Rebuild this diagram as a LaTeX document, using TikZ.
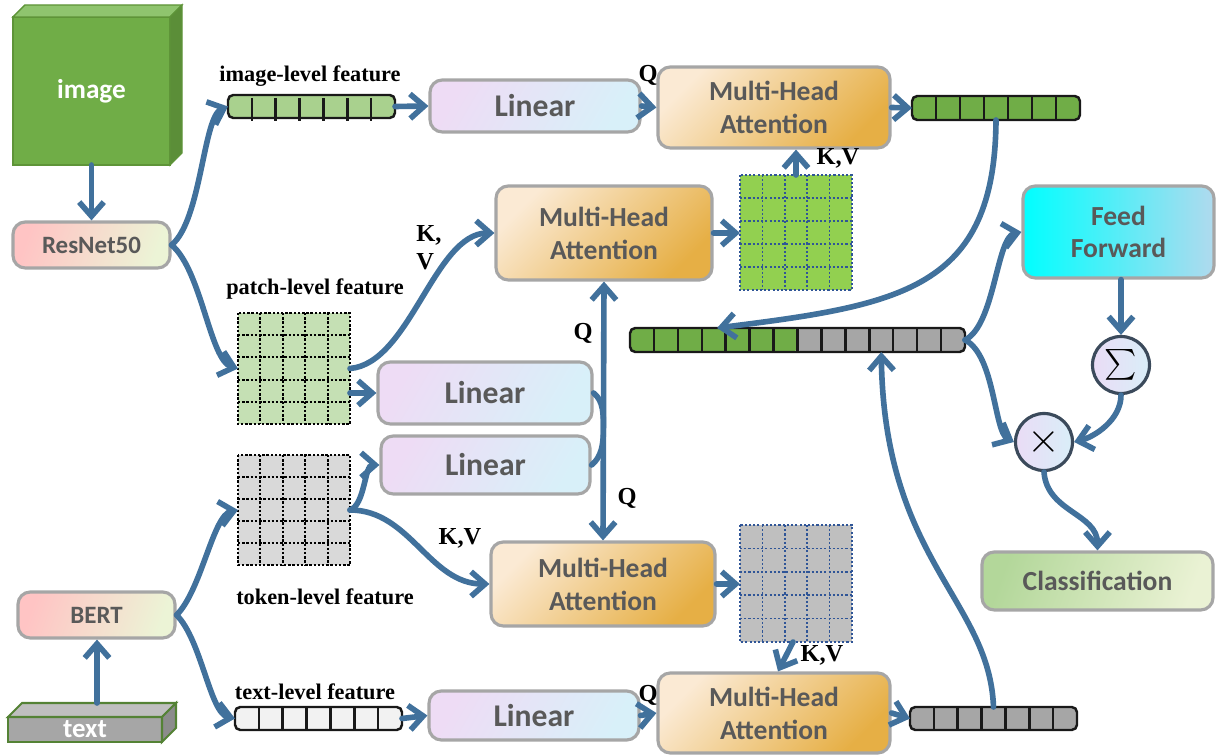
\documentclass[tikz,border=0pt]{standalone}
\usepackage{graphicx}
\usepackage{fontspec}
\setmainfont{Liberation Serif}
\newfontfamily\boxfont{Carlito}
\usetikzlibrary{arrows.meta,calc,shapes.geometric}
\definecolor{arrowblue}{HTML}{41719C}
\definecolor{boxgray}{HTML}{A6A6A6}
\definecolor{txtgray}{HTML}{595959}
\definecolor{linL}{HTML}{EEDCF5}
\definecolor{linR}{HTML}{D8F0F9}
\definecolor{mhaL}{HTML}{FBEAD4}
\definecolor{mhaM}{HTML}{F4D9A9}
\definecolor{mhaR}{HTML}{E6AF45}
\definecolor{resL}{HTML}{FFC4C4}
\definecolor{resR}{HTML}{ECF4D6}
\definecolor{ffL}{HTML}{00FFFF}
\definecolor{ffR}{HTML}{B0DAEE}
\definecolor{clsL}{HTML}{B3D79A}
\definecolor{clsR}{HTML}{EAF2D4}
\definecolor{cirL}{HTML}{EADCF6}
\definecolor{cirR}{HTML}{D9EEF8}
\definecolor{cirB}{HTML}{3B4A5B}
\definecolor{dkgreen}{HTML}{70AD47}
\definecolor{ltgreen}{HTML}{A9D18E}
\definecolor{patchgreen}{HTML}{C5E0B4}
\definecolor{kvgreen}{HTML}{92D050}
\definecolor{midgray}{HTML}{A6A6A6}
\definecolor{tokgray}{HTML}{D9D9D9}
\definecolor{kvgray}{HTML}{BFBFBF}
\definecolor{txtbarfill}{HTML}{F2F2F2}
\definecolor{gridblue}{HTML}{2F5597}
\definecolor{cubefrontc}{HTML}{70AD47}
\definecolor{cubetopc}{HTML}{8FC46E}
\definecolor{cubesidec}{HTML}{5B8E38}
\definecolor{cubeedge}{HTML}{5E9438}
\definecolor{slabfront}{HTML}{A6A6A6}
\definecolor{slabtopc}{HTML}{BFBFBF}
\definecolor{slabside}{HTML}{8C8C8C}
\definecolor{slabedge}{HTML}{548235}
\newcommand\cellsdiv[3]{%
  \foreach \i in {1,...,#2}{%
    \draw[cellline] ($(#1.north west)!\i/#3!(#1.north east)$) -- ($(#1.south west)!\i/#3!(#1.south east)$);}}
\newcommand\gridlines[2]{%
  \foreach \i in {1,...,4}{%
    \draw[#2] ($(#1.north west)!\i/5!(#1.north east)$) -- ($(#1.south west)!\i/5!(#1.south east)$);
    \draw[#2] ($(#1.north west)!\i/5!(#1.south west)$) -- ($(#1.north east)!\i/5!(#1.south east)$);}}
\begin{document}
\begin{tikzpicture}[x=0.02cm,y=-0.02cm,
  sz/.style 2 args={minimum width=#1*0.02cm, minimum height=#2*0.02cm},
  rbox/.style={rounded corners=7pt, draw=boxgray, line width=1.8pt, inner sep=0pt,
    font=\boxfont\bfseries\fontsize{15.7}{18.7}\selectfont, text=txtgray, align=center},
  linbox/.style={rbox, left color=linL, right color=linR, shading angle=60,
    font=\boxfont\bfseries\fontsize{18}{20}\selectfont},
  mhabox/.style={rbox, left color=mhaL, middle color=mhaM, right color=mhaR, shading angle=45},
  encbox/.style={rbox, left color=resL, right color=resR, shading angle=70,
    font=\boxfont\bfseries\fontsize{14.2}{16}\selectfont},
  bar/.style={draw=black!90, line width=1.4pt, rounded corners=3pt, inner sep=0pt, outer sep=0pt},
  cellline/.style={draw=black!90, line width=1.4pt},
  grid/.style={inner sep=0pt, outer sep=0pt},
  pdot/.style={draw=black, line width=1.1pt, dash pattern=on 1.4pt off 1pt},
  bdot/.style={draw=gridblue, line width=0.9pt, dash pattern=on 1.2pt off 1.2pt},
  circ/.style={circle, draw=cirB, line width=1.8pt, left color=cirL, right color=cirR,
    inner sep=0pt, minimum size=57*0.02cm},
  lbl/.style={font=\bfseries\fontsize{12.7}{14}\selectfont, inner sep=0pt},
  qkv/.style={font=\bfseries\fontsize{13.9}{16}\selectfont, inner sep=0pt},
  arr/.style={draw=arrowblue, line width=3.2pt, line cap=round,
    -{Straight Barb[length=8pt,width=14pt]}},
  darr/.style={draw=arrowblue, line width=3.2pt,
    {Straight Barb[length=8pt,width=14pt]}-{Straight Barb[length=8pt,width=14pt]}},
  plain/.style={draw=arrowblue, line width=3.2pt, line cap=round}
  ]
\useasboundingbox (0,0) rectangle (1218,756);

% ---------- image cube ----------
\node[sz={157}{148}, fill=cubefrontc, draw=cubeedge, line width=0.8pt, inner sep=0pt, outer sep=0pt,
  text=white, font=\boxfont\bfseries\fontsize{15.5}{18}\selectfont] (image) at (91.5,91) {image};
\filldraw[fill=cubetopc, draw=cubeedge, line width=0.8pt] (image.north west) -- ++(12,-12)
  -- ($(image.north east)+(12,-12)$) -- (image.north east) -- cycle;
\filldraw[fill=cubesidec, draw=cubeedge, line width=0.8pt] (image.north east) -- ++(12,-12)
  -- ($(image.south east)+(12,-12)$) -- (image.south east) -- cycle;

% ---------- text slab ----------
\node[sz={154}{25}, fill=slabfront, draw=slabedge, line width=1.2pt, inner sep=0pt, outer sep=0pt,
  text=white, font=\boxfont\bfseries\fontsize{15.3}{18}\selectfont] (text) at (85,729.5) {text};
\filldraw[fill=slabtopc, draw=slabedge, line width=1.2pt] (text.north west) -- ++(14,-14)
  -- ($(text.north east)+(14,-14)$) -- (text.north east) -- cycle;
\filldraw[fill=slabside, draw=slabedge, line width=1.2pt] (text.north east) -- ++(14,-14)
  -- ($(text.south east)+(14,-14)$) -- (text.south east) -- cycle;
\coordinate (slabtop) at ($(text.north)+(12,-14)$);

% ---------- encoders ----------
\node[encbox, sz={157}{46}] (resnet) at (91.5,245) {ResNet50};
\node[encbox, sz={157}{46}] (bert) at (96.5,615) {BERT};

% ---------- feature bars ----------
\node[bar, fill=ltgreen, sz={167}{23}] (imgbar) at (311.5,106.5) {};
\foreach \i in {1,...,6}{\draw[cellline] ($(imgbar.north west)!\i/7!(imgbar.north east)+(0,3)$) -- ($(imgbar.south west)!\i/7!(imgbar.south east)+(0,3)$);}
\node[bar, fill=txtbarfill, sz={167}{23}] (txtbar) at (318.5,718.5) {};
\cellsdiv{txtbar}{6}{7}
\node[bar, fill=dkgreen, sz={168}{24}] (outg) at (996,108) {};
\cellsdiv{outg}{6}{7}
\node[bar, fill=midgray, sz={167}{23}] (outgray) at (993.5,718.5) {};
\cellsdiv{outgray}{6}{7}
\node[bar, sz={335}{24}, path picture={
   \fill[dkgreen] (path picture bounding box.north west) rectangle (path picture bounding box.south);
   \fill[midgray] (path picture bounding box.north) rectangle (path picture bounding box.south east);}]
  (concat) at (797.5,340) {};
\cellsdiv{concat}{13}{14}

% ---------- grids ----------
\node[grid, fill=patchgreen, sz={112}{111}] (patch) at (294,368.5) {};
\gridlines{patch}{pdot}
\draw[pdot] (patch.north west) rectangle (patch.south east);
\node[grid, fill=tokgray, sz={112}{110}] (token) at (294,510) {};
\gridlines{token}{pdot}
\draw[pdot] (token.north west) rectangle (token.south east);
\node[grid, fill=kvgreen, sz={112}{115}] (kvg) at (796,232.5) {};
\gridlines{kvg}{bdot}
\draw[bdot] (kvg.north west) rectangle (kvg.south east);
\node[grid, fill=kvgray, sz={112}{117}] (kvk) at (796,583.5) {};
\gridlines{kvk}{bdot}
\draw[bdot] (kvk.north west) rectangle (kvk.south east);

% ---------- linear / attention boxes ----------
\node[linbox, sz={210}{52}] (lin1) at (535,106) {Linear};
\node[linbox, sz={214}{62}] (lin2) at (485,393) {Linear};
\node[linbox, sz={209}{58}] (lin3) at (485.5,465) {Linear};
\node[linbox, sz={210}{49}] (lin4) at (534,715.5) {Linear};
\node[mhabox, sz={232}{81}] (mha1) at (774,107.5) {Multi-Head\\Attention};
\node[mhabox, sz={216}{94}] (mha2) at (604,233) {Multi-Head\\Attention};
\node[mhabox, sz={224}{84}] (mha3) at (603,584) {Multi-Head\\Attention};
\node[mhabox, sz={232}{80}] (mha4) at (774,713) {Multi-Head\\Attention};

% ---------- right side ----------
\node[rbox, sz={191}{92}, left color=ffL, right color=ffR] (ff) at (1118.5,232) {Feed\\Forward};
\node[circ] (sigma) at (1121,365) {\scalebox{1.75}{$\textstyle\sum$}};
\node[circ] (times) at (1044,442) {\scalebox{2.4}{$\times$}};
\node[rbox, sz={231}{58}, left color=clsL, right color=clsR, shading angle=70] (cls) at (1097.5,581) {Classification};

% ---------- labels ----------
\node[lbl] (limg) at (310,76) {image-level feature};
\node[lbl] (lpatch) at (315,289) {patch-level feature};
\node[lbl] (ltoken) at (325,597) {token-level feature};
\node[lbl] (ltext) at (315,692) {text-level feature};
\node[qkv] (q1) at (648,75) {Q};
\node[qkv] (q2) at (583,333) {Q};
\node[qkv] (q3) at (627,498) {Q};
\node[qkv] (q4) at (648,695) {Q};
\node[qkv] (kv1) at (838,158) {K,V};
\node[qkv, align=left, anchor=west] (kv2) at (416,248) {K,\\V};
\node[qkv] (kv3) at (460,538) {K,V};
\node[qkv] (kv4) at (822,655) {K,V};

% ---------- connectors ----------
\draw[arr] (image.south) -- (resnet.north);
\draw[arr] (slabtop) -- (slabtop |- bert.south);
\draw[arr] (resnet.east) .. controls +(30,-25) and +(-25,10) .. (imgbar.west);
\draw[arr] (resnet.east) .. controls +(30,25) and +(-28,-8) .. (patch.west);
\draw[arr] (bert.east) .. controls +(25,-25) and +(-25,5) .. (token.west);
\draw[arr] (bert.east) .. controls +(25,25) and +(-25,-5) .. (txtbar.west);
\draw[arr] (imgbar.east) -- (lin1.west);
\draw[arr] (lin1.east) -- (mha1.west);
\draw[arr] (mha1.east) -- (outg.west);
\draw[arr] (txtbar.east) -- (lin4.west);
\draw[arr] (lin4.east) -- (mha4.west);
\draw[arr] (mha4.east) -- (outgray.west);
\draw[arr] (patch.east) .. controls +(60,-5) and +(-60,0) .. (mha2.west);
\draw[arr] (patch.east |- lin2.west) -- (lin2.west);
\draw[arr] (token.east) .. controls +(15,-5) and +(-15,0) .. (lin3.west);
\draw[arr] (token.east) .. controls +(60,0) and +(-60,0) .. (mha3.west);
\draw[arr] (mha2.east) -- (mha2.east -| kvg.west);
\draw[arr] (mha3.east) -- (mha3.east -| kvk.west);
\draw[arr] (kvg.north) -- (kvg.north |- mha1.south);
\draw[arr] ($(kvk.south)+(-3,0)$) -- ($(mha4.north)+(4,0)$);
\draw[darr] (mha2.south) -- (mha3.north);
\coordinate (vmid) at ($(mha2.south)!0.57!(mha3.north)$);
\draw[plain] (lin2.east) .. controls +(10,8) and +(0,-15) .. (vmid) .. controls +(0,15) and +(10,-8) .. (lin3.east);
\coordinate (cin1) at ($(concat.north west)!0.26!(concat.north east)$);
\coordinate (cin2) at ($(concat.south west)!0.75!(concat.south east)$);
\draw[arr] (outg.south) .. controls +(-1,170) and +(183,-23) .. (cin1);
\draw[arr] (outgray.north) .. controls +(-4,-107) and +(3,208) .. (cin2);
\draw[arr] (concat.east) .. controls +(30,-15) and +(-25,5) .. (ff.west);
\draw[arr] (concat.east) .. controls +(30,15) and +(-20,-10) .. (times.west);
\draw[arr] (ff.south -| sigma.north) -- (sigma.north);
\draw[arr] (sigma.south) .. controls +(0,25) and +(20,-5) .. (times.east);
\draw[arr] (times.south) .. controls +(3,40) and +(0,-37) .. (cls.north);
\end{tikzpicture}
\end{document}
